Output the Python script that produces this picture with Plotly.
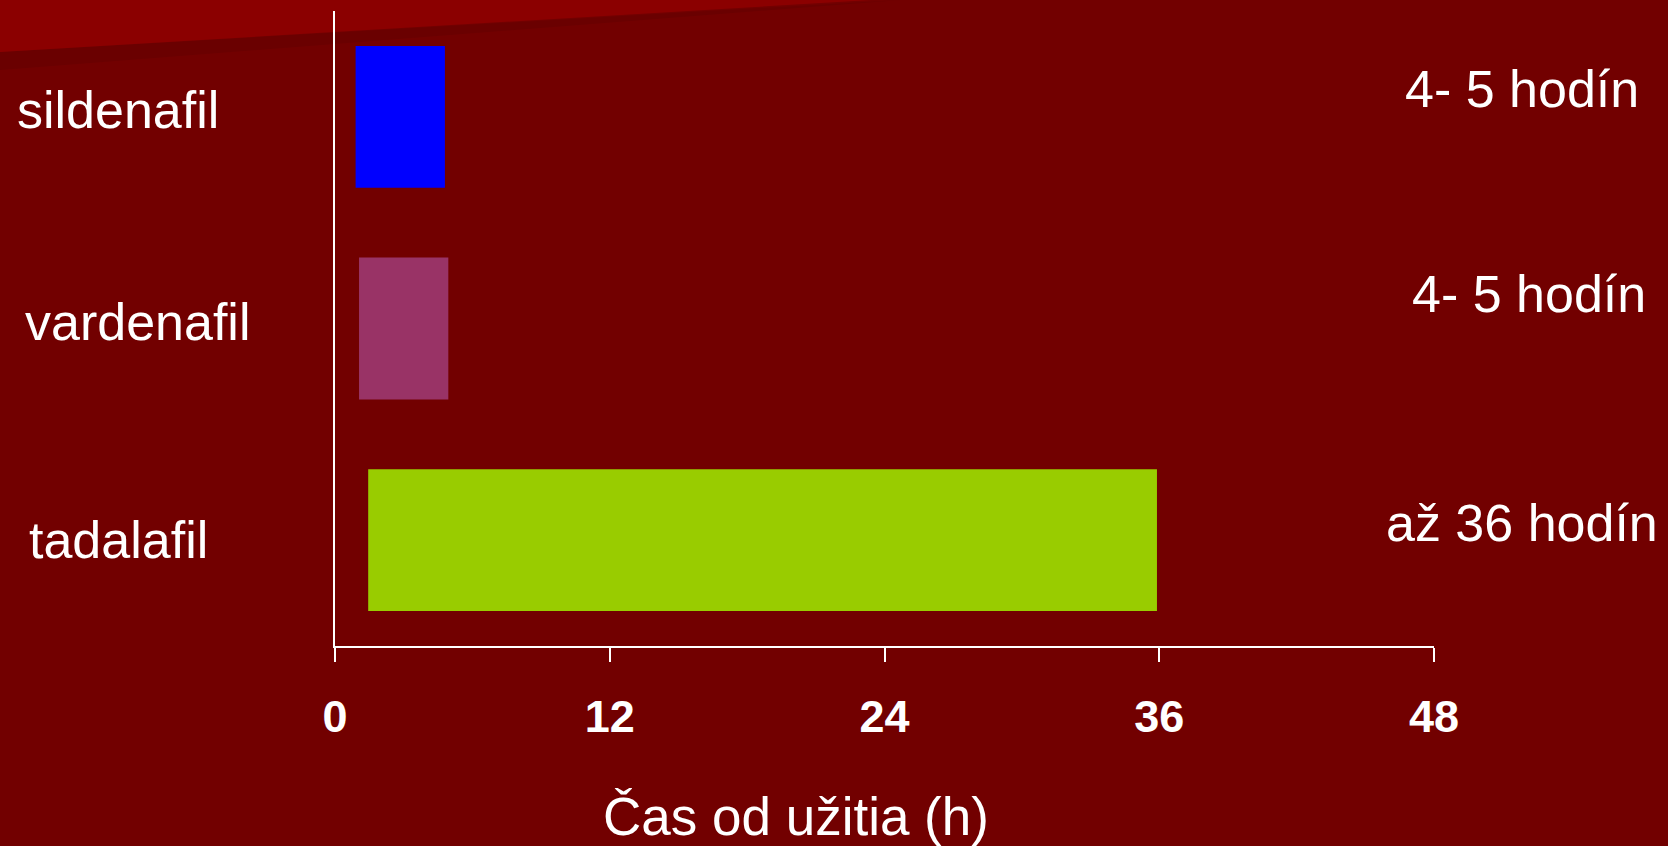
import plotly.graph_objects as go

# ---- data ----
drugs = ["sildenafil", "vardenafil", "tadalafil"]
onset_h = [0.9, 1.05, 1.45]          # start of effect (h)
end_h = [4.8, 4.95, 35.9]            # end of effect (h)
duration_labels = ["4- 5 hodín", "4- 5 hodín", "až 36 hodín"]
bar_colors = ["#0000FF", "#993366", "#99CC00"]
x_ticks = [0, 12, 24, 36, 48]
x_title = "Čas od užitia (h)"

W, H = 1668, 846
L, R, T, B = 335, 1434, 11, 646   # plot area in pixels


def px(xpix):
    return (xpix - L) / (R - L)


def py(ypix):
    return (B - ypix) / (B - T)


FONT = "Liberation Sans, Arial, sans-serif"
BG = "#720000"

fig = go.Figure()
fig.add_trace(go.Bar(
    y=drugs,
    x=[e - s for s, e in zip(onset_h, end_h)],
    base=onset_h,
    orientation="h",
    width=0.67,
    marker=dict(color=bar_colors, line=dict(width=0)),
    hoverinfo="skip",
))

# left-hand drug labels
left_x = [15, 23, 27]
left_shift = [7, 7, 0]
for d, lx, sh in zip(drugs, left_x, left_shift):
    fig.add_annotation(x=px(lx), xref="paper", y=d, yref="y", text=d,
                       showarrow=False, xanchor="left", yanchor="middle", yshift=sh,
                       font=dict(family=FONT, size=52, color="white"))

# right-hand duration labels
right_x = [1641, 1648, 1660]
right_shift = [28, 35, 17]
for d, lab, rx, sh in zip(drugs, duration_labels, right_x, right_shift):
    fig.add_annotation(x=px(rx), xref="paper", y=d, yref="y", text=lab,
                       showarrow=False, xanchor="right", yanchor="middle", yshift=sh,
                       font=dict(family=FONT, size=52, color="white"))

# axis title
fig.add_annotation(x=px(796), xref="paper", y=py(816), yref="paper", text=x_title,
                   showarrow=False, xanchor="center", yanchor="middle",
                   font=dict(family=FONT, size=53, color="white"))

# slanted lighter band at the top-left
fig.add_shape(type="path", xref="paper", yref="paper", layer="below",
              path=f"M {px(0)} {py(52)} L {px(0)} {py(70)} L {px(900)} {py(0)} Z",
              fillcolor="#6a0000", line=dict(width=0))
fig.add_shape(type="path", xref="paper", yref="paper", layer="below",
              path=f"M {px(0)} {py(-2)} L {px(0)} {py(52)} L {px(905)} {py(-2)} Z",
              fillcolor="#8B0000", line=dict(width=0))

fig.update_layout(
    width=W, height=H, autosize=False,
    margin=dict(l=L, r=W - R, t=T, b=H - B, pad=0),
    paper_bgcolor=BG, plot_bgcolor="rgba(0,0,0,0)",
    showlegend=False, bargap=0.33,
)
fig.update_xaxes(range=[0, 48], tickvals=x_ticks, ticktext=[str(t) for t in x_ticks],
                 showgrid=False, zeroline=False, showline=True, linecolor="white",
                 linewidth=2, ticks="outside", ticklen=14, tickwidth=1.5, tickcolor="white",
                 tickfont=dict(family=FONT, size=45, color="white", weight="bold"),
                 ticklabelstandoff=16, fixedrange=True)
fig.update_yaxes(autorange="reversed", showgrid=False, zeroline=False, showline=True,
                 linecolor="white", linewidth=2, showticklabels=False, ticks="",
                 fixedrange=True)

fig.write_html("out.html", config={"displayModeBar": False},
               post_script="document.body.style.margin='0';document.body.style.overflow='hidden';")
